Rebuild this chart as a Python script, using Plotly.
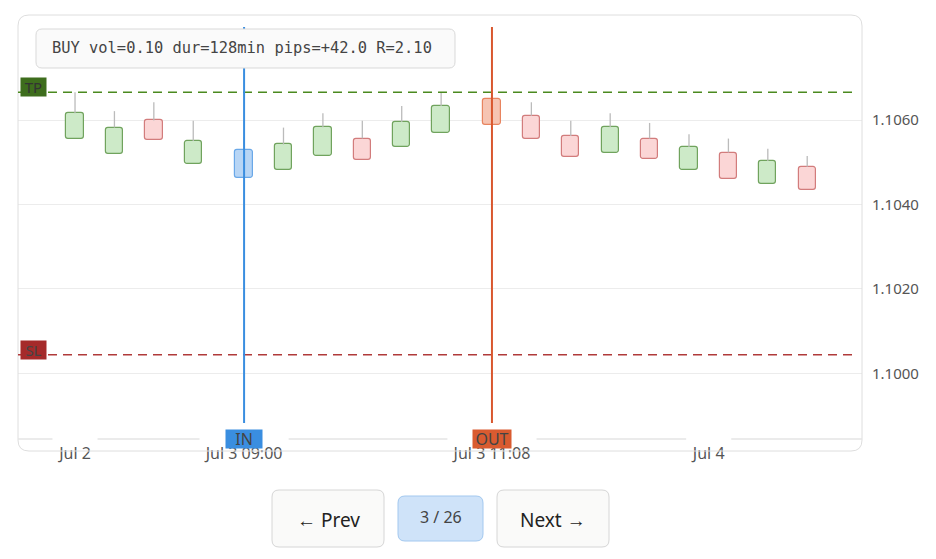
import plotly.graph_objects as go

# Candle positions (in candle steps) and OHLC values
candle_pos = [0, 1, 2, 3, 4.29, 5.29, 6.29, 7.29, 8.29, 9.29,
              10.58, 11.58, 12.58, 13.58, 14.58, 15.58, 16.58, 17.58, 18.58]
open_px = [1.10555, 1.10519, 1.10599, 1.10495, 1.10462, 1.10482, 1.10515, 1.10556, 1.10535, 1.10569,
           1.10589, 1.10610, 1.10562, 1.10522, 1.10556, 1.10482, 1.10523, 1.10448, 1.10489]
close_px = [1.10616, 1.10582, 1.10552, 1.10550, 1.10530, 1.10542, 1.10583, 1.10505, 1.10595, 1.10633,
            1.10649, 1.10555, 1.10512, 1.10583, 1.10508, 1.10536, 1.10461, 1.10503, 1.10435]
high_px = [1.10666, 1.10621, 1.10642, 1.10598, 1.10560, 1.10582, 1.10616, 1.10598, 1.10633, 1.10666,
           1.10665, 1.10642, 1.10598, 1.10616, 1.10593, 1.10566, 1.10556, 1.10532, 1.10515]
low_px = [min(o, c) for o, c in zip(open_px, close_px)]

entry_idx = 4
exit_idx = 10
tp_price = 1.10666
sl_price = 1.10044

tick_pos = [0, 4.29, 10.58, 16.08]
tick_text = ["Jul 2", "Jul 3 09:00", "Jul 3 11:08", "Jul 4"]
price_ticks = [1.1000, 1.1020, 1.1040, 1.1060]

trade_info = "BUY vol=0.10 dur=128min pips=+42.0 R=2.10"
page_text = "3 / 26"

x_range = [-1.447, 19.97]
y_range = [1.098444, 1.108487]

# page has an 8px body margin; geometry below is in screen pixels
OFF = 8
W, H = 920, 543
PLOT_L, PLOT_R, PLOT_T, PLOT_B = 18, 862, 15, 439
L, T = PLOT_L - OFF, PLOT_T - OFF
R, B = W - (PLOT_R - OFF), H - (PLOT_B - OFF)
PW, PH = PLOT_R - PLOT_L, PLOT_B - PLOT_T


def px(x):
    return (x - PLOT_L) / PW


def py(y):
    return (PLOT_B - y) / PH


def rounded_box(x0, y0, x1, y1, r, fill, line, width=1):
    """Rounded rectangle path shape given in screen pixels"""
    path = (f"M {px(x0 + r)} {py(y0)} L {px(x1 - r)} {py(y0)} "
            f"Q {px(x1)} {py(y0)} {px(x1)} {py(y0 + r)} L {px(x1)} {py(y1 - r)} "
            f"Q {px(x1)} {py(y1)} {px(x1 - r)} {py(y1)} L {px(x0 + r)} {py(y1)} "
            f"Q {px(x0)} {py(y1)} {px(x0)} {py(y1 - r)} L {px(x0)} {py(y0 + r)} "
            f"Q {px(x0)} {py(y0)} {px(x0 + r)} {py(y0)} Z")
    return dict(type="path", path=path, xref="paper", yref="paper",
                fillcolor=fill, line=dict(color=line, width=width), layer="above")


fills, borders = [], []
for i, (o, c) in enumerate(zip(open_px, close_px)):
    if i == entry_idx:
        fills.append("#b7d5f5"); borders.append("#6aa8e8")
    elif i == exit_idx:
        fills.append("#f6c4b2"); borders.append("#e8845f")
    elif c >= o:
        fills.append("#cdeac8"); borders.append("#70a35d")
    else:
        fills.append("#fbd6d6"); borders.append("#d27c7c")

fig = go.Figure()

# Wicks
wx, wy = [], []
for x, o, c, h, lo in zip(candle_pos, open_px, close_px, high_px, low_px):
    wx += [x, x, None, x, x, None]
    wy += [max(o, c), h, None, min(o, c), lo, None]
fig.add_trace(go.Scatter(x=wx, y=wy, mode="lines", line=dict(color="#bbbbbb", width=1.3),
                         hoverinfo="skip", showlegend=False))

# Candle bodies
fig.add_trace(go.Bar(x=candle_pos, y=[abs(c - o) for o, c in zip(open_px, close_px)],
                     base=[min(o, c) for o, c in zip(open_px, close_px)], width=0.44,
                     marker=dict(color=fills, line=dict(color=borders, width=1.2), cornerradius=3),
                     showlegend=False))

shapes = []
# outer card
shapes.append(rounded_box(18, 15, 862, 451, 11, "rgba(0,0,0,0)", "#dedede"))

# axis line broken under tick labels
segs = [PLOT_L]
for pos, txt in zip(tick_pos, tick_text):
    cx = PLOT_L + (pos - x_range[0]) / (x_range[1] - x_range[0]) * PW
    half = 3.67 * len(txt) + 4.2
    segs += [cx - half, cx + half]
segs.append(PLOT_R)
for a, b in zip(segs[0::2], segs[1::2]):
    shapes.append(dict(type="line", xref="paper", yref="paper", x0=px(a), x1=px(b), y0=0, y1=0,
                       line=dict(color="#e4e4e4", width=1.5)))

# TP / SL levels
shapes.append(dict(type="line", xref="paper", yref="y", x0=0, x1=0.995, y0=tp_price, y1=tp_price,
                   line=dict(color="#4b8a1f", width=1.5, dash="9px,6px")))
shapes.append(dict(type="line", xref="paper", yref="y", x0=0, x1=0.995, y0=sl_price, y1=sl_price,
                   line=dict(color="#b03a3a", width=1.5, dash="9px,6px")))

# entry / exit markers
for idx, col in [(entry_idx, "#3a8ee0"), (exit_idx, "#d9572e")]:
    shapes.append(dict(type="line", xref="x", yref="paper", x0=candle_pos[idx], x1=candle_pos[idx],
                       y0=py(423), y1=py(27), line=dict(color=col, width=2)))

# info box and buttons
shapes.append(rounded_box(36, 29, 455, 68, 6, "#fafafa", "#d9d9d9"))
shapes.append(rounded_box(272, 490, 384, 547, 7, "#fafaf9", "#d6d6d6"))
shapes.append(rounded_box(398, 496, 483, 541, 7, "#cfe3f9", "#a3c8ef"))
shapes.append(rounded_box(497, 490, 609, 547, 7, "#fafaf9", "#d6d6d6"))


def label(text, x, y, **kw):
    d = dict(text=text, x=x, y=y, showarrow=False, xanchor="center", yanchor="middle")
    d.update(kw)
    return d


annotations = [
    label(trade_info, px(50), py(48), xref="paper", yref="paper", xanchor="left",
          font=dict(family="DejaVu Sans Mono", size=15.4, color="#444")),
    label("TP", px(33.5), tp_price, xref="paper", yref="y", yshift=5, bgcolor="#3e6d1d",
          borderpad=0, width=25, height=18, font=dict(family="Noto Sans", size=15, color="#333")),
    label("SL", px(33.5), sl_price, xref="paper", yref="y", yshift=5, bgcolor="#a52a2a",
          borderpad=0, width=25, height=18, font=dict(family="Noto Sans", size=15, color="#444")),
    label("IN", candle_pos[entry_idx], 0, xref="x", yref="paper", bgcolor="#3a8ee0",
          borderpad=0, width=36, height=18, font=dict(family="Noto Sans", size=16, color="#444")),
    label("OUT", candle_pos[exit_idx], 0, xref="x", yref="paper", bgcolor="#d95b30",
          borderpad=0, width=38, height=18, font=dict(family="Noto Sans", size=16, color="#444")),
    label("← Prev", px(328), py(520), xref="paper", yref="paper",
          font=dict(family="Noto Sans", size=19, color="#222")),
    label(page_text, px(440.5), py(517), xref="paper", yref="paper",
          font=dict(family="Noto Sans", size=16, color="#444")),
    label("Next →", px(553), py(520), xref="paper", yref="paper",
          font=dict(family="Noto Sans", size=19, color="#222")),
]

fig.update_layout(
    width=W, height=H,
    margin=dict(l=L, r=R, t=T, b=B),
    paper_bgcolor="white", plot_bgcolor="white",
    showlegend=False, bargap=0,
    font=dict(family="Noto Sans", size=15, color="#555"),
    shapes=shapes, annotations=annotations,
    xaxis=dict(range=x_range, tickvals=tick_pos, ticktext=tick_text, showgrid=False,
               zeroline=False, showline=False, ticks="", ticklabelstandoff=3,
               tickfont=dict(size=16), fixedrange=True),
    yaxis=dict(side="right", range=y_range, tickvals=price_ticks, tickformat=".4f",
               gridcolor="#ececec", gridwidth=1, zeroline=False, showline=False, ticks="",
               ticklabelstandoff=9, fixedrange=True),
)

fig.write_html("out.html")
